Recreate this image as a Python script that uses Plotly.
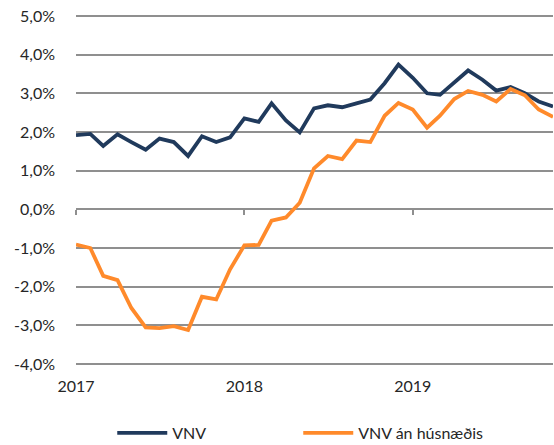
import plotly.graph_objects as go

months = [f"{y}-{m:02d}-01" for y in (2017, 2018, 2019) for m in range(1, 13)][:35]

vnv = [1.92, 1.95, 1.64, 1.94, 1.74, 1.54, 1.83, 1.74, 1.38, 1.89, 1.74, 1.86,
       2.35, 2.26, 2.74, 2.30, 1.99, 2.61, 2.69, 2.64, 2.74, 2.84, 3.26, 3.74,
       3.40, 3.00, 2.96, 3.28, 3.59, 3.35, 3.07, 3.16, 3.00, 2.79, 2.66]

vnv_an = [-0.91, -1.00, -1.72, -1.83, -2.55, -3.05, -3.07, -3.02, -3.12, -2.26, -2.33, -1.55,
          -0.93, -0.92, -0.29, -0.21, 0.17, 1.06, 1.38, 1.30, 1.78, 1.74, 2.42, 2.75,
          2.58, 2.11, 2.42, 2.85, 3.06, 2.96, 2.79, 3.11, 2.95, 2.58, 2.39]

year_ticks = ["2017-01-01", "2018-01-01", "2019-01-01"]
year_labels = ["2017", "2018", "2019"]
y_ticks = [-4, -3, -2, -1, 0, 1, 2, 3, 4, 5]
y_labels = ["-4,0%", "-3,0%", "-2,0%", "-1,0%", "0,0%", "1,0%", "2,0%", "3,0%", "4,0%", "5,0%"]

navy = "#203A5C"
orange = "#FF8A2B"
grid = "#8F8F8F"
txt = "#262626"
fnt = "Lato, Noto Sans, sans-serif"

fig = go.Figure()
fig.add_trace(go.Scatter(x=months, y=vnv, mode="lines", name="VNV",
                         line=dict(color=navy, width=3.8)))
fig.add_trace(go.Scatter(x=months, y=vnv_an, mode="lines", name="VNV án húsnæðis",
                         line=dict(color=orange, width=3.8)))
# invisible helper trace so the tick-mark axis at y=0 is drawn
fig.add_trace(go.Scatter(x=months, y=vnv, mode="lines", xaxis="x2", showlegend=False,
                         hoverinfo="skip", opacity=0, line=dict(width=0)))

fig.update_layout(
    width=554, height=445,
    margin=dict(l=76, r=1, t=14, b=79, autoexpand=False),
    paper_bgcolor="white", plot_bgcolor="white",
    font=dict(family=fnt, size=16, color=txt),
    showlegend=True,
    legend=dict(orientation="h", x=0.076, xanchor="left", y=-0.19, yanchor="middle",
                font=dict(family=fnt, size=16, color=txt), entrywidth=121, itemwidth=50),
    xaxis=dict(range=[months[0], months[-1]], tickvals=year_ticks, ticktext=year_labels,
               showgrid=False, showline=False, ticks="", zeroline=False,
               ticklabelstandoff=9, tickfont=dict(family=fnt, size=16, color=txt)),
    xaxis2=dict(overlaying="x", matches="x", anchor="free", position=4.05/9.1,
                tickvals=year_ticks, showticklabels=False, showgrid=False,
                showline=False, ticks="outside", ticklen=5, tickcolor=grid,
                tickwidth=1.5, zeroline=False),
    yaxis=dict(range=[-4.05, 5.05], tickvals=y_ticks, ticktext=y_labels,
               showgrid=True, gridcolor=grid, gridwidth=1.5, zeroline=False,
               showline=False, ticks="", ticklabelstandoff=20,
               tickfont=dict(family=fnt, size=16, color=txt)),
)

fig.write_html("out.html", config={"displayModeBar": False},
               post_script="document.body.style.margin='0';document.body.style.overflow='hidden';")
